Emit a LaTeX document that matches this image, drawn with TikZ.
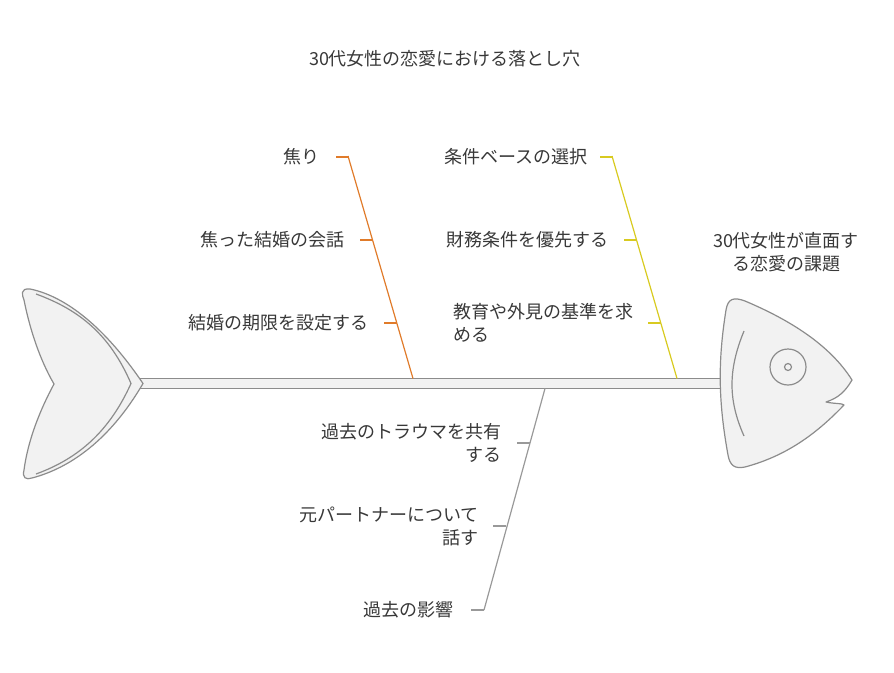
\documentclass[tikz,border=0pt]{standalone}
\usepackage{fontspec}
\setmainfont{Noto Sans CJK JP}
\begin{document}
\begin{tikzpicture}[x=1pt,y=-1pt]
\definecolor{bo}{HTML}{E07B2A}
\definecolor{by}{HTML}{D8CA20}
\definecolor{bg}{HTML}{999999}
\tikzset{
  lbl/.style={font=\fontsize{18}{23}\selectfont, text=black!78, inner sep=0pt},
  body/.style={draw=black!45, fill=black!5, line width=1.2pt, line join=round},
  boneO/.style={draw=bo, line width=1.2pt}, boneY/.style={draw=by, line width=1.2pt}, boneG/.style={draw=bg, line width=1.2pt}}
\useasboundingbox (0,0) rectangle (894,672);
\node[lbl] (title) at (445,59) {30代女性の恋愛における落とし穴};
% spine
\draw[body] (140,378.5) rectangle (724,388.5);
% tail
\draw[body] (143,383.5) .. controls (100,320) and (60,295) .. (30,289) .. controls (20,288) and (22,295) .. (24,300)
  .. controls (30,330) and (40,360) .. (54,384) .. controls (40,410) and (28,440) .. (24,470)
  .. controls (22,478) and (26,480) .. (32,478) .. controls (70,468) and (110,440) .. (143,383.5) -- cycle;
\draw[draw=black!45, line width=1.2pt] (36,294) .. controls (80,310) and (110,335) .. (131,383.5) .. controls (110,430) and (80,458) .. (36,474);
% head
\draw[body] (726,310) .. controls (728,298) and (734,297) .. (745,301) .. controls (790,320) and (830,345) .. (852,380)
  .. controls (845,392) and (838,398) .. (826,402) .. controls (835,404) and (842,403) .. (844,405)
  .. controls (820,430) and (790,455) .. (745,467) .. controls (735,469) and (730,466) .. (728,455)
  .. controls (718,400) and (718,360) .. (726,310) -- cycle;
\draw[draw=black!45, line width=1.2pt] (744,331) .. controls (728,370) and (728,400) .. (744,436);
\node[draw=black!45, line width=1.2pt, circle, minimum size=36pt, inner sep=0pt] (eye) at (788,367) {};
\node[draw=black!45, line width=1.2pt, circle, minimum size=7pt, inner sep=0pt] (pupil) at (788,367) {};
\node[lbl, align=center] (head) at (786,252) {30代女性が直面す\\る恋愛の課題};
% orange bone
\coordinate (o0) at (413,378.5); \coordinate (o1) at (348,156);
\draw[boneO] (o0) -- (o1);
\coordinate (ot1) at (349,157); \coordinate (ot2) at (372.5,240); \coordinate (ot3) at (396.8,323);
\draw[boneO] (ot1) -- ++(-13,0); \draw[boneO] (ot2) -- ++(-13,0); \draw[boneO] (ot3) -- ++(-13,0);
\node[lbl, anchor=east] (a1) at (320,157) {焦り};
\node[lbl, anchor=east] (a2) at (345,240) {焦った結婚の会話};
\node[lbl, anchor=east] (a3) at (369,323) {結婚の期限を設定する};
% yellow bone
\coordinate (y0) at (677,378.5); \coordinate (y1) at (612,156);
\draw[boneY] (y0) -- (y1);
\coordinate (yt1) at (613,157); \coordinate (yt2) at (636.5,240); \coordinate (yt3) at (661,323);
\draw[boneY] (yt1) -- ++(-13,0); \draw[boneY] (yt2) -- ++(-13,0); \draw[boneY] (yt3) -- ++(-13,0);
\node[lbl, anchor=east] (b1) at (588,157) {条件ベースの選択};
\node[lbl, anchor=east] (b2) at (609,240) {財務条件を優先する};
\node[lbl, anchor=east, align=left] (b3) at (634,323) {教育や外見の基準を求\\める};
% gray bone
\coordinate (g0) at (545,388.5); \coordinate (g1) at (484,610);
\draw[boneG] (g0) -- (g1);
\coordinate (gt1) at (530,443); \coordinate (gt2) at (506,526); \coordinate (gt3) at (484,610);
\draw[boneG] (gt1) -- ++(-13,0); \draw[boneG] (gt2) -- ++(-13,0); \draw[boneG] (gt3) -- ++(-13,0);
\node[lbl, anchor=east, align=right] (c1) at (502,443) {過去のトラウマを共有\\する};
\node[lbl, anchor=east, align=right] (c2) at (479,526) {元パートナーについて\\話す};
\node[lbl, anchor=east] (c3) at (454,610) {過去の影響};
\end{tikzpicture}
\end{document}
